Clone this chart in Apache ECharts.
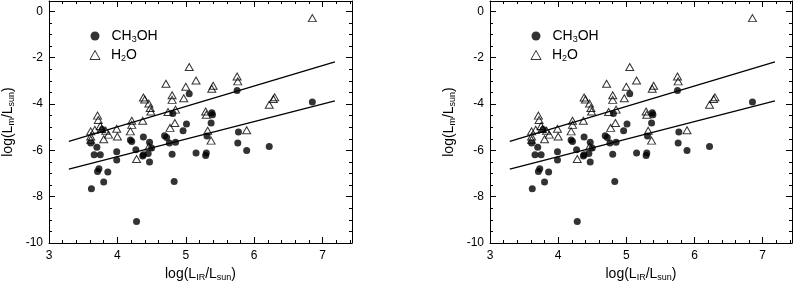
<!DOCTYPE html>
<html><head><meta charset="utf-8">
<script src="https://cdn.jsdelivr.net/npm/echarts@6/dist/echarts.min.js"></script>
<style>html,body{margin:0;padding:0;background:#fff}#c{width:793px;height:289px}</style>
</head><body><div id="c"></div>
<script>
// ---- data (log L_IR, log L_m) ----
const ch3oh = [
 [3.62,-7.66],[3.61,-5.68],[3.70,-5.86],[3.66,-6.19],[3.75,-6.19],[3.73,-6.79],[3.71,-6.91],
 [3.86,-6.93],[3.80,-7.37],[3.78,-5.10],[3.99,-6.06],[3.99,-6.42],[4.19,-5.55],[4.21,-5.62],
 [4.27,-5.97],[4.28,-9.07],[4.38,-5.42],[4.38,-6.19],[4.45,-6.13],[4.37,-6.24],[4.47,-5.65],
 [4.50,-5.90],[4.47,-6.50],[4.69,-5.37],[4.72,-5.44],[4.76,-5.68],[4.85,-5.65],[4.80,-6.17],
 [4.83,-7.34],[4.81,-4.41],[4.96,-5.15],[5.01,-4.86],[5.05,-3.56],[5.15,-6.11],[5.30,-6.11],
 [5.29,-6.22],[5.31,-5.38],[5.37,-4.82],[5.38,-4.38],[5.39,-4.46],[5.75,-3.41],[5.77,-5.21],
 [5.76,-5.68],[5.89,-6.01],[6.22,-5.83],[6.85,-3.91]
];
const h2o = [
 [6.85,-0.29],[5.05,-2.40],[5.15,-2.98],[4.71,-3.12],[5.00,-3.25],[4.80,-3.62],[4.80,-3.82],
 [4.97,-3.75],[4.38,-3.72],[4.40,-3.80],[4.46,-3.98],[4.48,-4.17],[4.49,-4.32],[4.74,-4.34],
 [4.85,-4.24],[3.71,-4.50],[3.72,-4.69],[4.21,-4.72],[4.37,-4.72],[4.21,-4.90],[4.84,-4.82],
 [3.75,-4.95],[3.77,-5.08],[4.77,-5.03],[5.40,-3.21],[5.38,-3.34],[5.75,-2.81],[5.76,-3.02],
 [6.30,-3.71],[6.22,-4.03],[6.28,-3.78],[5.29,-4.32],[5.30,-4.46],[5.32,-5.15],[5.37,-5.58],
 [5.89,-5.13],[3.61,-5.18],[3.67,-5.11],[3.61,-5.40],[3.61,-5.54],[3.87,-5.32],[3.80,-5.52],
 [3.99,-5.07],[4.00,-5.40],[4.19,-5.18],[4.28,-6.37],[4.46,-5.83],[3.83,-5.15]
];
const fitUpper = [[3.29,-5.61],[7.18,-2.18]];
const fitLower = [[3.29,-6.81],[7.18,-3.86]];
const xTickLabels = ['3','4','5','6','7'];
const yTickLabels = ['-10','-8','-6','-4','-2','0'];

// ---- layout ----
const FONT = 'Liberation Sans, Arial, sans-serif';
const X_MIN = 3, X_MAX = 7.43, Y_MIN = -10, Y_MAX = 0.45;
const panels = [{left:49, width:303}, {left:490, width:302}];
const subStyle = {fontSize:9, fontFamily:FONT, color:'#000', padding:[7,0,0,0]};

const grid = [], xAxis = [], yAxis = [], series = [], legend = [];
panels.forEach((p, i) => {
  grid.push({left:p.left, top:1, width:p.width, height:242, containLabel:false});
  const base = {gridIndex:i, type:'value', min:X_MIN, max:X_MAX, splitLine:{show:false}};
  const line = {show:true, onZero:false, lineStyle:{color:'#000', width:1}};
  const noLine = {show:false, onZero:false};
  // x axes
  xAxis.push(Object.assign({}, base, {position:'bottom', interval:1, axisLine:line,
    axisTick:{show:true, inside:true, length:6, lineStyle:{color:'#000'}},
    axisLabel:{show:true, margin:7, fontSize:12, fontFamily:FONT, color:'#000', showMaxLabel:false,
      formatter:v => xTickLabels.includes(String(v)) ? String(v) : ''},
    name:'log(L{s|IR}/L{s|sun})', nameLocation:'middle', nameGap:23,
    nameTextStyle:{fontSize:14, fontFamily:FONT, color:'#000', rich:{s:subStyle}}}));
  xAxis.push(Object.assign({}, base, {position:'bottom', interval:0.2, axisLine:noLine,
    axisTick:{show:true, inside:true, length:3, lineStyle:{color:'#000'}}, axisLabel:{show:false}}));
  xAxis.push(Object.assign({}, base, {position:'top', interval:1, axisLine:line,
    axisTick:{show:true, inside:true, length:6, lineStyle:{color:'#000'}}, axisLabel:{show:false}}));
  xAxis.push(Object.assign({}, base, {position:'top', interval:0.2, axisLine:noLine,
    axisTick:{show:true, inside:true, length:3, lineStyle:{color:'#000'}}, axisLabel:{show:false}}));
  const ybase = {gridIndex:i, type:'value', min:Y_MIN, max:Y_MAX, splitLine:{show:false}};
  yAxis.push(Object.assign({}, ybase, {position:'left', interval:2, axisLine:line,
    axisTick:{show:true, inside:true, length:6, lineStyle:{color:'#000'}},
    axisLabel:{show:true, margin:6, fontSize:12, fontFamily:FONT, color:'#000', showMaxLabel:false,
      formatter:v => yTickLabels.includes(String(v)) ? String(v) : ''},
    name:'log(L{s|m}/L{s|sun})', nameLocation:'middle', nameGap:33, nameRotate:90,
    nameTextStyle:{fontSize:14, fontFamily:FONT, color:'#000', rich:{s:subStyle}}}));
  yAxis.push(Object.assign({}, ybase, {position:'left', interval:0.5, axisLine:noLine,
    axisTick:{show:true, inside:true, length:3, lineStyle:{color:'#000'}}, axisLabel:{show:false}}));
  yAxis.push(Object.assign({}, ybase, {position:'right', interval:2, axisLine:line,
    axisTick:{show:true, inside:true, length:6, lineStyle:{color:'#000'}}, axisLabel:{show:false}}));
  yAxis.push(Object.assign({}, ybase, {position:'right', interval:0.5, axisLine:noLine,
    axisTick:{show:true, inside:true, length:3, lineStyle:{color:'#000'}}, axisLabel:{show:false}}));

  const xi = i*4, yi = i*4;
  series.push({type:'scatter', name:'H2O', xAxisIndex:xi, yAxisIndex:yi, data:h2o,
    symbol:'triangle', symbolSize:[8,7], z:3,
    itemStyle:{color:'rgba(0,0,0,0)', borderColor:'#000', borderWidth:1}});
  series.push({type:'scatter', name:'CH3OH', xAxisIndex:xi, yAxisIndex:yi, data:ch3oh,
    symbol:'circle', symbolSize:7, z:4, itemStyle:{color:'#000'}});
  [fitUpper, fitLower].forEach(f => series.push({type:'line', xAxisIndex:xi, yAxisIndex:yi, data:f,
    showSymbol:false, symbol:'none', z:2, lineStyle:{color:'#000', width:1.3}, silent:true}));

  const lgText = {fontSize:14, fontFamily:FONT, color:'#000', padding:[0,0,0,7],
    rich:{s:{fontSize:9, fontFamily:FONT, color:'#000', padding:[7,0,0,0]}}};
  const fmt = n => n === 'CH3OH' ? 'CH{s|3}OH' : 'H{s|2}O';
  legend.push({orient:'vertical', left:p.left+36.5, top:24, itemWidth:9, itemHeight:9,
    selectedMode:false, formatter:fmt, textStyle:lgText,
    data:[{name:'CH3OH', icon:'circle', itemStyle:{color:'#000'}}]});
  legend.push({orient:'vertical', left:p.left+35.5, top:43, itemWidth:10, itemHeight:9,
    selectedMode:false, formatter:fmt, textStyle:Object.assign({}, lgText, {padding:[0,0,0,6]}),
    data:[{name:'H2O', icon:'triangle', itemStyle:{color:'rgba(0,0,0,0)', borderColor:'#000', borderWidth:1}}]});
});

const chart = echarts.init(document.getElementById('c'), null, {renderer:'canvas'});
chart.setOption({animation:false, backgroundColor:'#fff', grid, xAxis, yAxis, series, legend});
</script></body></html>
